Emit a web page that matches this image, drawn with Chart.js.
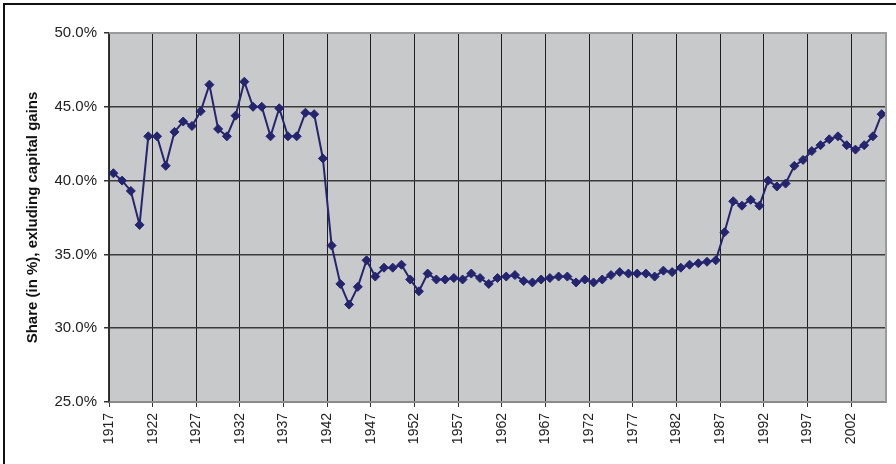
<!DOCTYPE html>
<html>
<head>
<meta charset="utf-8">
<script src="https://cdn.jsdelivr.net/npm/chart.js@4.4.1/dist/chart.umd.min.js"></script>
<style>
  html, body { margin: 0; padding: 0; background: #fff; }
  #wrap { position: relative; width: 896px; height: 464px; }
  #frame { position: absolute; left: 3px; top: 3px; right: 0; bottom: 0;
           border-top: 2px solid #111; border-left: 2px solid #111; }
  #myChart { position: absolute; left: 0; top: 0; }
</style>
</head>
<body>
<div id="wrap">
  <div id="frame"></div>
  <canvas id="myChart" width="896" height="464"></canvas>
</div>
<script>
// years 1917 - 2005
const years = [
    1917, 1918, 1919, 1920, 1921, 1922, 1923, 1924, 1925, 1926,
    1927, 1928, 1929, 1930, 1931, 1932, 1933, 1934, 1935, 1936,
    1937, 1938, 1939, 1940, 1941, 1942, 1943, 1944, 1945, 1946,
    1947, 1948, 1949, 1950, 1951, 1952, 1953, 1954, 1955, 1956,
    1957, 1958, 1959, 1960, 1961, 1962, 1963, 1964, 1965, 1966,
    1967, 1968, 1969, 1970, 1971, 1972, 1973, 1974, 1975, 1976,
    1977, 1978, 1979, 1980, 1981, 1982, 1983, 1984, 1985, 1986,
    1987, 1988, 1989, 1990, 1991, 1992, 1993, 1994, 1995, 1996,
    1997, 1998, 1999, 2000, 2001, 2002, 2003, 2004, 2005
]
const shares = [
    40.5, 40.0, 39.3, 37.0, 43.0, 43.0, 41.0, 43.3, 44.0, 43.7,
    44.7, 46.5, 43.5, 43.0, 44.4, 46.7, 45.0, 45.0, 43.0, 44.9,
    43.0, 43.0, 44.6, 44.5, 41.5, 35.6, 33.0, 31.6, 32.8, 34.6,
    33.5, 34.1, 34.1, 34.3, 33.3, 32.5, 33.7, 33.3, 33.3, 33.4,
    33.3, 33.7, 33.4, 33.0, 33.4, 33.5, 33.6, 33.2, 33.1, 33.3,
    33.4, 33.5, 33.5, 33.1, 33.3, 33.1, 33.3, 33.6, 33.8, 33.7,
    33.7, 33.7, 33.5, 33.9, 33.8, 34.1, 34.3, 34.4, 34.5, 34.6,
    36.5, 38.6, 38.3, 38.7, 38.3, 40.0, 39.6, 39.8, 41.0, 41.4,
    42.0, 42.4, 42.8, 43.0, 42.4, 42.1, 42.4, 43.0, 44.5
]
const tickYears = [1917, 1922, 1927, 1932, 1937, 1942, 1947, 1952, 1957,
    1962, 1967, 1972, 1977, 1982, 1987, 1992, 1997, 2002]
const yTicks = [25, 30, 35, 40, 45, 50]
const yTitle = 'Share (in %), exluding capital gains'

const fontFamily = "'Liberation Sans', Arial, sans-serif"

const plotBackground = {
    id: 'plotBackground',
    beforeDraw(chart) {
        const { ctx, chartArea: a } = chart
        ctx.save()
        ctx.fillStyle = '#c8c9cb'
        ctx.fillRect(a.left, a.top, a.right - a.left, a.bottom - a.top)
        ctx.restore()
    },
    afterDatasetsDraw(chart) {
        const { ctx, chartArea: a } = chart
        ctx.save()
        ctx.strokeStyle = '#9a9a9a'
        ctx.lineWidth = 2
        ctx.beginPath()
        ctx.moveTo(a.left, a.top)
        ctx.lineTo(a.right, a.top)
        ctx.lineTo(a.right, a.bottom)
        ctx.stroke()
        ctx.restore()
    }
}

const canvas = document.getElementById('myChart')
const myChart = new Chart(canvas, {
    type: 'line',
    data: {
        datasets: [{
            label: 'Share',
            data: years.map((y, i) => ({ x: y, y: shares[i] })),
            borderColor: '#24246f',
            backgroundColor: '#24246f',
            borderWidth: 2,
            pointStyle: 'rectRot',
            pointRadius: 4.5,
            pointBorderWidth: 1,
            tension: 0,
            clip: false,
        }],
    },
    options: {
        responsive: false,
        animation: false,
        layout: { padding: { left: 0, top: 33, right: 10, bottom: 0 } },
        plugins: {
            legend: { display: false },
            tooltip: { enabled: false },
        },
        scales: {
            x: {
                type: 'linear',
                min: years[0] - 0.5,
                max: years[years.length - 1] + 0.5,
                afterBuildTicks: scale => {
                    scale.ticks = tickYears.map(t => ({ value: t - 0.5 }))
                },
                afterFit: scale => { scale.height = 62 },
                ticks: {
                    autoSkip: false,
                    minRotation: 90,
                    maxRotation: 90,
                    padding: 6,
                    color: '#222',
                    font: { family: fontFamily, size: 14 },
                    callback: v => String(Math.round(v + 0.5)),
                },
                grid: {
                    color: '#1e1e1e',
                    lineWidth: 1,
                    tickLength: 5,
                    tickColor: '#333',
                },
                border: { color: '#8a8a8a', width: 2 },
            },
            y: {
                min: 25,
                max: 50,
                afterBuildTicks: scale => {
                    scale.ticks = yTicks.map(v => ({ value: v }))
                },
                afterFit: scale => { scale.width = 109 },
                ticks: {
                    padding: 7,
                    color: '#222',
                    font: { family: fontFamily, size: 15 },
                    callback: v => v.toFixed(1) + '%',
                },
                grid: {
                    color: ctx => ctx.tick && ctx.tick.value === 50 ? '#9a9a9a' : '#3a3a3a',
                    lineWidth: 1.5,
                    tickLength: 5,
                    tickColor: '#333',
                },
                border: { color: '#333', width: 1.5 },
                title: {
                    display: true,
                    text: yTitle,
                    color: '#111',
                    font: { family: fontFamily, size: 15, weight: 'bold' },
                    padding: { top: 24, bottom: 0 },
                },
            },
        },
    },
    plugins: [plotBackground],
})
</script>
</body>
</html>
